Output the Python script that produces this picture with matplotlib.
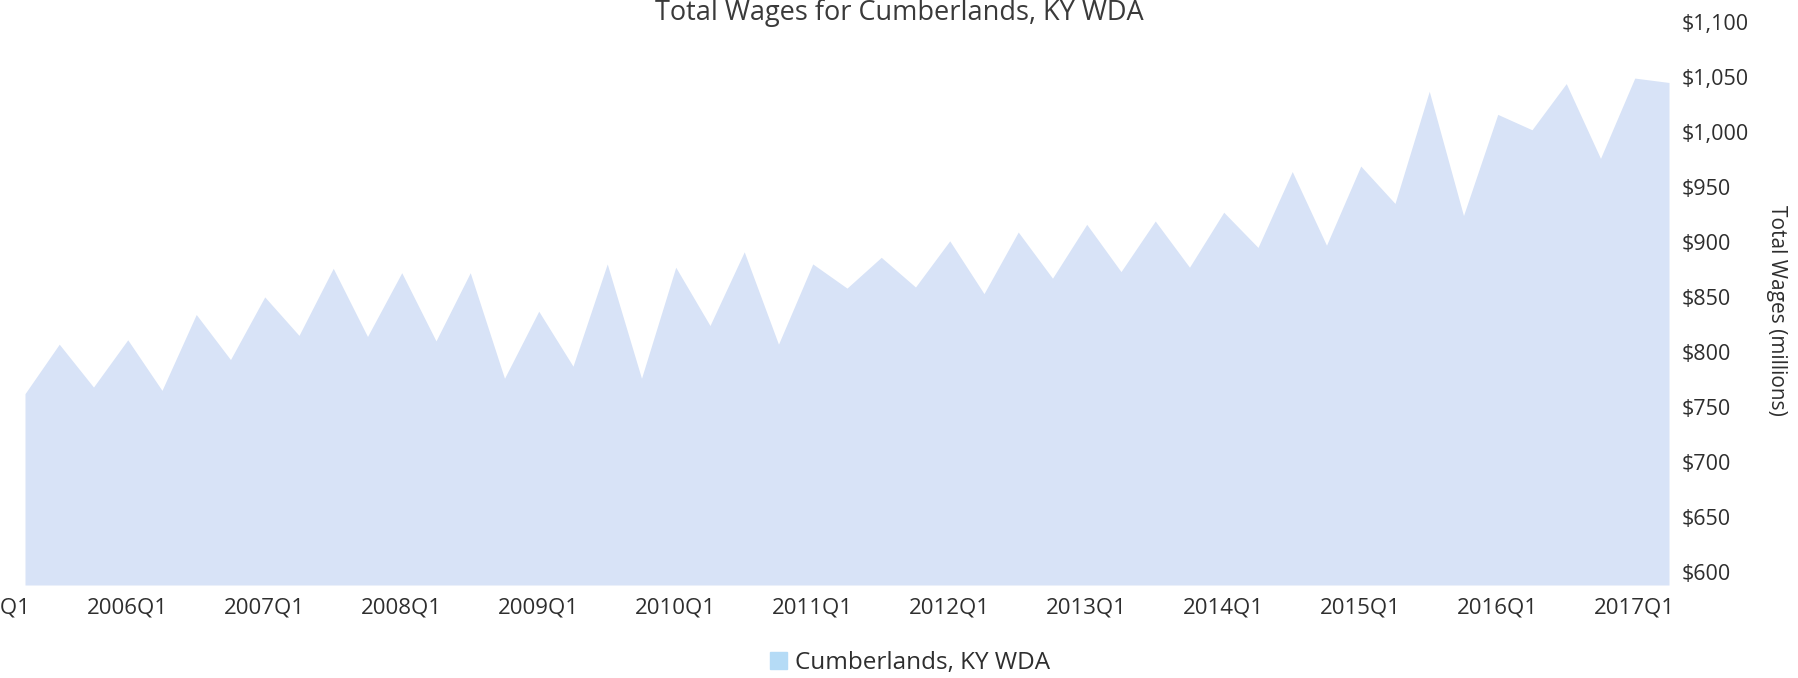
import matplotlib
matplotlib.use("Agg")
from matplotlib import pyplot as plt
from matplotlib.patches import Patch
from matplotlib.ticker import FuncFormatter, MultipleLocator

plt.rcParams.update({"font.family": ["Open Sans", "DejaVu Sans"]})

# quarterly total wages, millions of dollars
quarters = [
    "2005Q2", "2005Q3", "2005Q4",
    "2006Q1", "2006Q2", "2006Q3", "2006Q4",
    "2007Q1", "2007Q2", "2007Q3", "2007Q4",
    "2008Q1", "2008Q2", "2008Q3", "2008Q4",
    "2009Q1", "2009Q2", "2009Q3", "2009Q4",
    "2010Q1", "2010Q2", "2010Q3", "2010Q4",
    "2011Q1", "2011Q2", "2011Q3", "2011Q4",
    "2012Q1", "2012Q2", "2012Q3", "2012Q4",
    "2013Q1", "2013Q2", "2013Q3", "2013Q4",
    "2014Q1", "2014Q2", "2014Q3", "2014Q4",
    "2015Q1", "2015Q2", "2015Q3", "2015Q4",
    "2016Q1", "2016Q2", "2016Q3", "2016Q4",
    "2017Q1", "2017Q2",
]
wages = [
    762, 807, 768,
    811, 765, 834, 793,
    850, 815, 876, 814,
    872, 810, 872, 776,
    837, 787, 880, 776,
    877, 824, 891, 807,
    880, 858, 886, 859,
    901, 853, 909, 867,
    916, 873, 919, 877,
    927, 895, 964, 897,
    969, 935, 1037, 924,
    1016, 1002, 1044, 976,
    1049, 1045,
]
tick_labels = [f"{y}Q1" for y in range(2005, 2018)]

title = "Total Wages for Cumberlands, KY WDA"
series_name = "Cumberlands, KY WDA"
y_title = "Total Wages (millions)"

area_color = "#d8e3f7"
legend_color = "#b5dbf6"
text_color = "#2e2e2e"


def to_x(label):
    return int(label[:4]) + (int(label[5]) - 1) / 4


W, H = 1798, 678
fig = plt.figure(figsize=(W / 100, H / 100), dpi=100)

# plot area in pixels: first point at x=25, last at x=1669, bottom 585, top 22
x0, x1 = 2004.8, 2017.25
px_per_year = (1669 - 25) / (to_x(quarters[-1]) - to_x(quarters[0]))
left_px = 25 - (to_x(quarters[0]) - x0) * px_per_year
width_px = (x1 - x0) * px_per_year
ax = fig.add_axes([left_px / W, (H - 585) / H, width_px / W, (585 - 22) / H])

xs = [to_x(q) for q in quarters]
ax.fill_between(xs, 588, wages, color=area_color, lw=0)

ax.set_xlim(x0, x1)
ax.set_ylim(588, 1100)
ax.set_xticks([to_x(t) for t in tick_labels])
ax.set_xticklabels(tick_labels)
ax.yaxis.set_major_locator(MultipleLocator(50))
ax.yaxis.set_major_formatter(FuncFormatter(lambda v, p: f"${v:,.0f}"))
ax.yaxis.tick_right()
ax.tick_params(axis="x", length=0, pad=9, labelsize=16, colors=text_color)
ax.tick_params(axis="y", length=0, pad=9, labelsize=15.5, colors=text_color)
for lbl in ax.get_yticklabels():
    lbl.set_horizontalalignment("left")
for s in ax.spines.values():
    s.set_visible(False)
ax.set_facecolor("none")

fig.text(0.5, 1 - 13 / H, title, ha="center", va="center",
         fontsize=19.5, color="#3a3a3a")
fig.text(1776 / W, 1 - 310 / H, y_title, rotation=270, ha="center",
         va="center", fontsize=15, color=text_color)

fig.legend(handles=[Patch(color=legend_color, label=series_name)],
           loc="center", bbox_to_anchor=(910 / W, 15 / H), frameon=False,
           fontsize=17.5, handlelength=0.7, handleheight=0.7,
           handletextpad=0.3, labelcolor=text_color)

fig.savefig("out.png", dpi=100)
